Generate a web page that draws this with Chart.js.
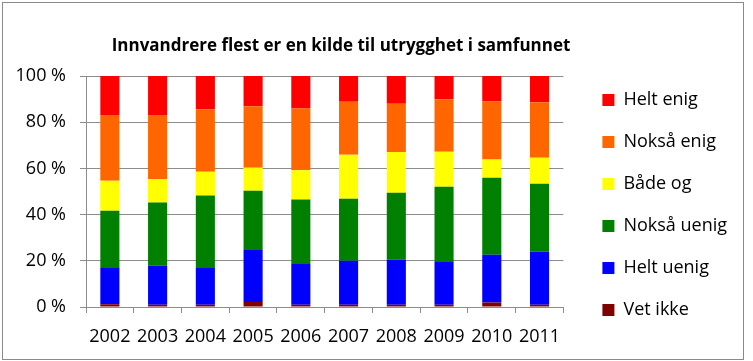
<!DOCTYPE html>
<html>
<head>
<meta charset="utf-8">
<script src="https://cdn.jsdelivr.net/npm/chart.js@4"></script>
<style>
  body { margin: 0; background: #fff; }
</style>
</head>
<body>
<canvas id="chart" width="753" height="361"></canvas>
<script>
const years = ['2002', '2003', '2004', '2005', '2006', '2007', '2008', '2009', '2010', '2011'];
const vetIkke     = [1.2, 1.0, 1.0, 2.2, 1.0, 1.0, 1.0, 1.0, 2.0, 1.0];
const heltUenig   = [16.0, 17.0, 16.2, 22.8, 17.9, 19.0, 19.6, 18.8, 20.6, 22.9];
const noksaUenig  = [24.5, 27.2, 31.1, 25.3, 27.6, 26.9, 28.9, 32.3, 33.4, 29.5];
const badeOg      = [13.0, 10.1, 10.3, 10.0, 12.7, 19.0, 17.6, 15.1, 7.9, 11.2];
const noksaEnig   = [28.4, 27.8, 27.0, 26.6, 26.7, 23.0, 20.9, 22.7, 25.1, 24.0];
const heltEnig    = [16.9, 16.9, 14.4, 13.1, 14.1, 11.1, 12.0, 10.1, 11.0, 11.4];
const yTicks = [0, 20, 40, 60, 80, 100];

const titleText = 'Innvandrere flest er en kilde til utrygghet i samfunnet';
const font = "'Open Sans', sans-serif";
const gridColor = '#8c8c8c';

// title + outer frame, drawn like the spreadsheet chart
const frame = {
    id: 'frame',
    afterLayout(chart) {
        const l = chart.legend;
        l.left += 15; l.right += 15;
        l.top -= 9; l.bottom -= 9;
    },
    afterDraw(chart) {
        const c = chart.ctx;
        c.save();
        c.strokeStyle = '#8a8a8a';
        c.lineWidth = 1;
        c.strokeRect(2.5, 2.5, 741, 357);
        c.fillStyle = '#000';
        c.font = "bold 17px " + font;
        c.textAlign = 'center';
        c.textBaseline = 'alphabetic';
        c.fillText(titleText, 341, 51);
        c.restore();
    }
};

const ds = (label, data, color) => ({
    label, data, backgroundColor: color, borderWidth: 0,
    barPercentage: 0.4, categoryPercentage: 1
});

new Chart(document.getElementById('chart'), {
    type: 'bar',
    data: {
        labels: years,
        datasets: [
            ds('Vet ikke', vetIkke, '#800000'),
            ds('Helt uenig', heltUenig, '#0000ff'),
            ds('Nokså uenig', noksaUenig, '#008000'),
            ds('Både og', badeOg, '#ffff00'),
            ds('Nokså enig', noksaEnig, '#ff6600'),
            ds('Helt enig', heltEnig, '#ff0000')
        ]
    },
    options: {
        responsive: false,
        animation: false,
        layout: { padding: { top: 76, left: 10, right: 31, bottom: 4 } },
        plugins: {
            title: { display: false },
            tooltip: { enabled: false },
            legend: {
                position: 'right',
                align: 'start',
                reverse: true,
                labels: {
                    boxWidth: 12, boxHeight: 12, padding: 24,
                    color: '#000',
                    font: { family: font, size: 18 }
                }
            }
        },
        scales: {
            x: {
                stacked: true,
                afterFit: s => { s.height = 50; },
                grid: { drawOnChartArea: false, tickLength: 6, color: gridColor },
                border: { color: gridColor },
                ticks: {
                    color: '#000', padding: 13, maxRotation: 0, minRotation: 0, autoSkip: false,
                    font: { family: font, size: 18 }
                }
            },
            y: {
                stacked: true,
                min: 0,
                max: 100,
                afterFit: s => { s.width = 76; },
                afterBuildTicks: s => { s.ticks = yTicks.map(v => ({ value: v })); },
                grid: { color: gridColor, tickLength: 6 },
                border: { color: gridColor },
                ticks: {
                    color: '#000', padding: 14,
                    font: { family: font, size: 18 },
                    callback: v => v + ' %'
                }
            }
        }
    },
    plugins: [frame]
});
</script>
</body>
</html>
